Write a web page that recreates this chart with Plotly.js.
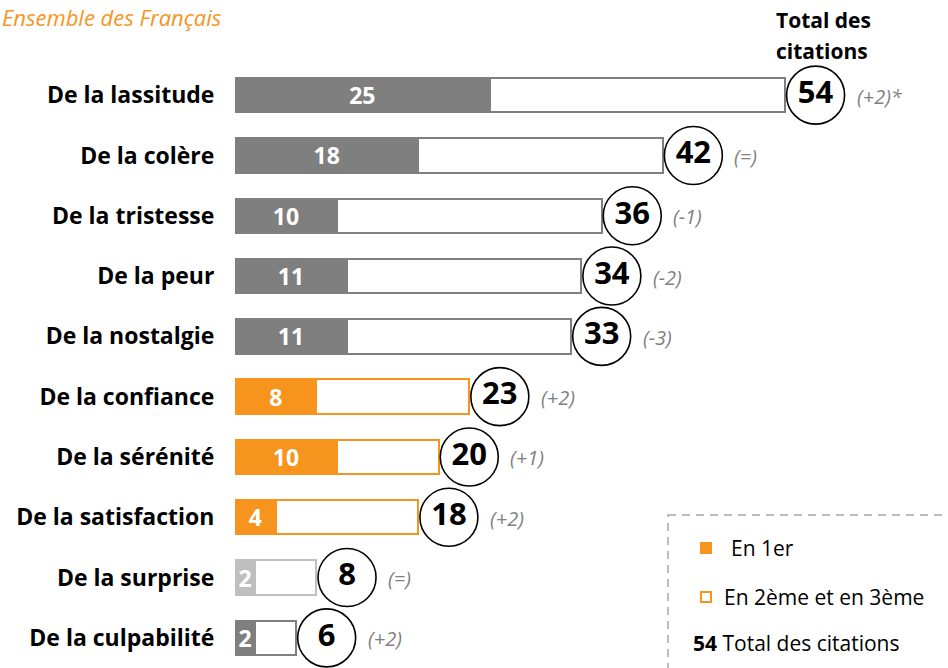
<!DOCTYPE html>
<html>
<head>
<meta charset="utf-8">
<script src="https://cdn.plot.ly/plotly-3.0.1.min.js"></script>
<style>html,body{margin:0;padding:0;background:#fff;}#chart{width:948px;height:668px;}</style>
</head>
<body>
<div id="chart"></div>
<script>
// ---- data ----
const categories = ["De la lassitude","De la colère","De la tristesse","De la peur","De la nostalgie","De la confiance","De la sérénité","De la satisfaction","De la surprise","De la culpabilité"];
const firstRank = [25,18,10,11,11,8,10,4,2,2];
const totalCitations = [54,42,36,34,33,23,20,18,8,6];
const changes = ["(+2)*","(=)","(-1)","(-2)","(-3)","(+2)","(+1)","(+2)","(=)","(+2)"];
const groups = ["neg","neg","neg","neg","neg","pos","pos","pos","neutral","neg"];

// ---- styles ----
const ORANGE = "#F7941D";
const palette = {neg:"#7F7F7F", pos:ORANGE, neutral:"#BFBFBF"};
const colors = groups.map(g => palette[g]);
const FONT = "'Open Sans', Lato, sans-serif";
const W = 948, H = 668, ML = 235, MR = 0, MT = 65, MB = 0;
const px = x => (x - ML) / (W - ML - MR);
const py = y => (H - MB - y) / (H - MT - MB);
const CIRCLE_OFFSET = 3.0;

const secondThird = totalCitations.map((t,i) => t - firstRank[i]);
const circleX = totalCitations.map(t => t + CIRCLE_OFFSET);

const traces = [
  {
    type:"bar", orientation:"h", y:categories, x:firstRank,
    marker:{color:colors, line:{color:colors, width:2}},
    width:0.57,
    text:firstRank.map(String), textposition:"inside", insidetextanchor:"middle",
    constraintext:"none", textangle:0,
    textfont:{family:FONT, size:23, color:"#fff", weight:"bold"},
    hoverinfo:"skip", showlegend:false
  },
  {
    type:"bar", orientation:"h", y:categories, x:secondThird,
    marker:{color:"#fff", line:{color:colors, width:2}},
    width:0.57, hoverinfo:"skip", showlegend:false
  },
  {
    type:"scatter", mode:"markers+text", y:categories, x:circleX,
    marker:{size:58, color:"#fff", line:{color:"#000", width:1.6}},
    text:totalCitations.map(String), textposition:"middle center",
    textfont:{family:FONT, size:31, color:"#000", weight:"bold"},
    cliponaxis:false, hoverinfo:"skip", showlegend:false
  }
];

const annotations = categories.map((c,i) => ({
  xref:"x", yref:"y", x:circleX[i], y:c, xanchor:"left", yanchor:"middle",
  xshift:39, yshift:-1, showarrow:false, text:changes[i],
  font:{family:FONT, size:20, color:"#808080", style:"italic"}
}));

annotations.push(
  {xref:"paper", yref:"paper", x:px(0), y:py(0), xanchor:"left", yanchor:"top", showarrow:false,
   text:"Ensemble des Français", font:{family:FONT, size:22, color:ORANGE, style:"italic"}},
  {xref:"paper", yref:"paper", x:px(823), y:py(20), xanchor:"center", yanchor:"middle", showarrow:false,
   text:"Total des", font:{family:FONT, size:21, color:"#000", weight:"bold"}},
  {xref:"paper", yref:"paper", x:px(822), y:py(51), xanchor:"center", yanchor:"middle", showarrow:false,
   text:"citations", font:{family:FONT, size:21, color:"#000", weight:"bold"}},
  {xref:"paper", yref:"paper", x:px(729), y:py(548), xanchor:"left", yanchor:"middle", showarrow:false,
   text:"En 1er", font:{family:FONT, size:21, color:"#000"}},
  {xref:"paper", yref:"paper", x:px(722), y:py(597), xanchor:"left", yanchor:"middle", showarrow:false,
   text:"En 2ème et en 3ème", font:{family:FONT, size:21, color:"#000"}},
  {xref:"paper", yref:"paper", x:px(691), y:py(643), xanchor:"left", yanchor:"middle", showarrow:false,
   text:"<b>54</b> Total des citations", font:{family:FONT, size:21, color:"#000"}}
);

const shapes = [
  {type:"rect", xref:"paper", yref:"paper", x0:px(668), x1:px(970), y0:py(515), y1:py(690),
   line:{color:"#A6A6A6", width:1.5, dash:"8px,6px"}, fillcolor:"rgba(0,0,0,0)", layer:"below"},
  {type:"rect", xref:"paper", yref:"paper", x0:px(700), x1:px(712), y0:py(542), y1:py(554),
   line:{width:0}, fillcolor:ORANGE},
  {type:"rect", xref:"paper", yref:"paper", x0:px(701), x1:px(711), y0:py(592), y1:py(602),
   line:{color:ORANGE, width:2}, fillcolor:"#fff"}
];

const layout = {
  width:W, height:H, margin:{l:ML, r:MR, t:MT, b:MB, pad:0},
  paper_bgcolor:"#fff", plot_bgcolor:"rgba(0,0,0,0)",
  barmode:"stack", bargap:0.43,
  showlegend:false,
  xaxis:{range:[0,70], visible:false, fixedrange:true},
  yaxis:{type:"category", range:[9.5,-0.5], showgrid:false, zeroline:false, showline:false,
         ticks:"outside", ticklen:15, tickcolor:"rgba(0,0,0,0)",
         tickfont:{family:FONT, size:23, color:"#000", weight:"bold"}, fixedrange:true, automargin:false},
  annotations:annotations, shapes:shapes
};

Plotly.newPlot("chart", traces, layout, {staticPlot:true, displayModeBar:false});
</script>
</body>
</html>
